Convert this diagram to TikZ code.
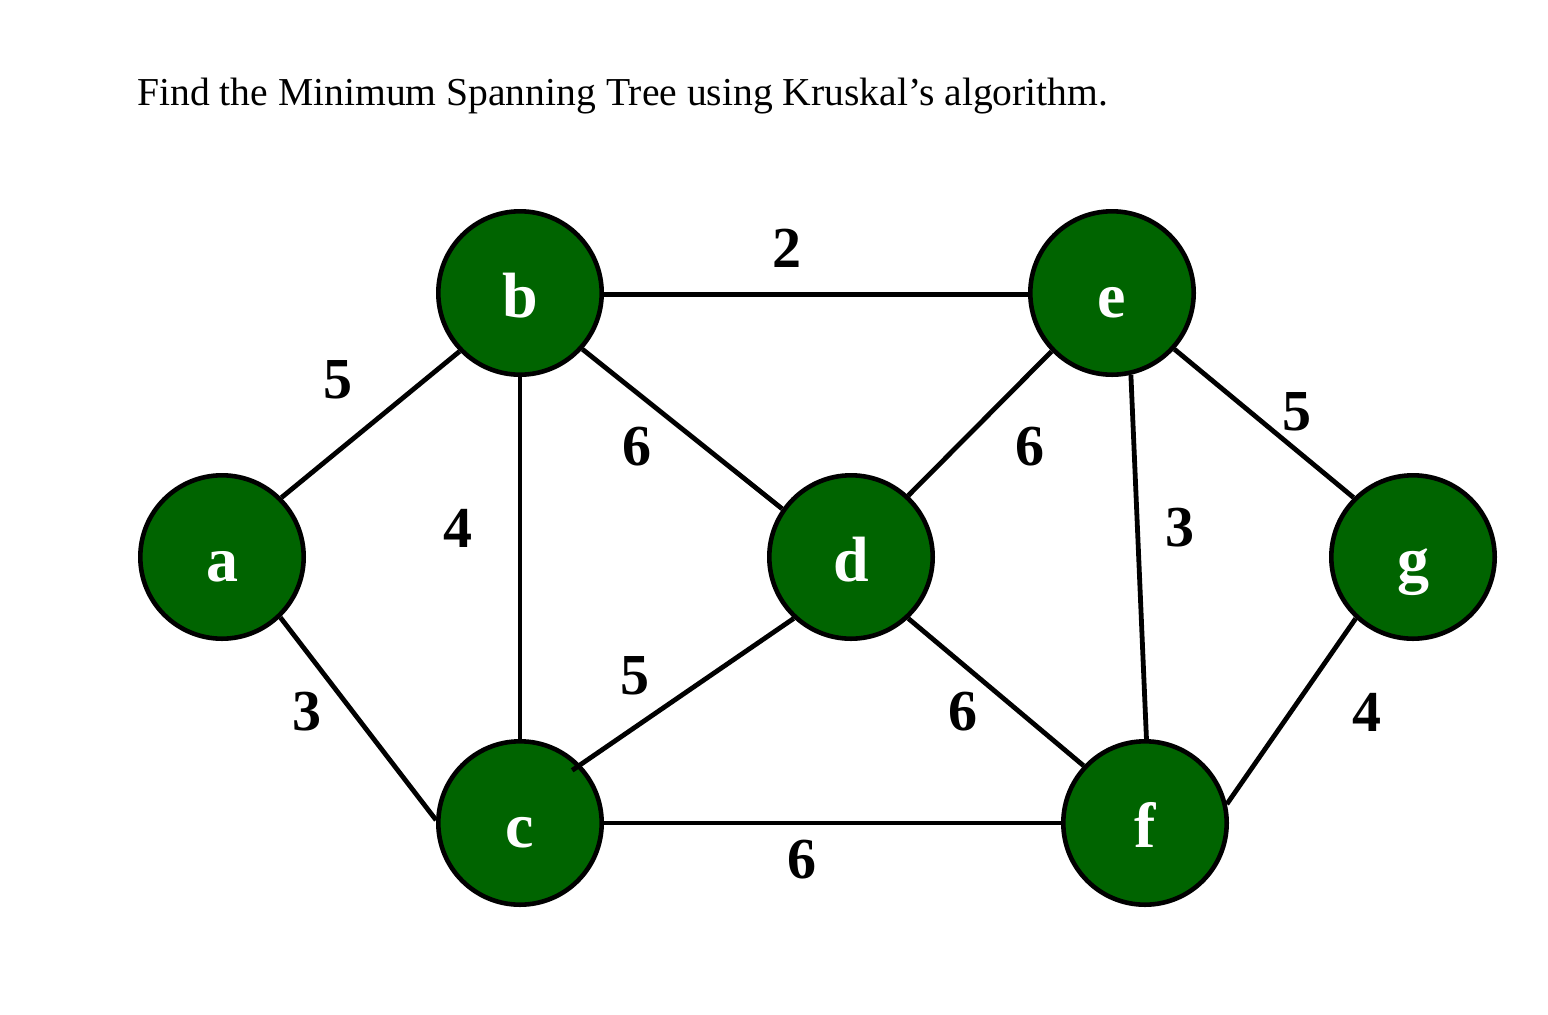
\documentclass[tikz,border=0pt]{standalone}
\usepackage{fontspec}
\setmainfont{Liberation Serif}
\definecolor{nodegreen}{RGB}{0,100,0}
\begin{document}
\begin{tikzpicture}[x=0.5pt,y=-0.5pt,
  vert/.style={circle,draw=black,line width=2.3pt,fill=nodegreen,minimum size=81.7pt,inner sep=0pt,
    text height=24pt,text depth=0pt,
    text=white,font=\bfseries\fontsize{32}{32}\selectfont},
  edge/.style={draw=black,line width=2.4pt},
  wlab/.style={font=\bfseries\fontsize{29}{29}\selectfont,inner sep=0pt}]
\useasboundingbox (0,0) rectangle (1548,1014);
\fill[white] (0,0) rectangle (1548,1014);
\node[anchor=base west,inner sep=0pt,font=\fontsize{19.8}{19.8}\selectfont] (title) at (137,105)
  {Find the Minimum Spanning Tree using Kruskal’s algorithm.};
\node[vert] (a) at (222,557) {a};
\node[vert] (b) at (520,293) {b};
\node[vert] (e) at (1112,293) {e};
\node[vert] (d) at (851,557) {d};
\node[vert] (g) at (1413,557) {g};
\node[vert] (c) at (520,823) {c};
\node[vert] (f) at (1145,823) {f};
\draw[edge] (a.45) -- (b.224);
\draw[edge] (a.-46) -- (c.178);
\draw[edge] (b.-1) -- (e.181);
\draw[edge] (b.-42) -- (d.145);
\draw[edge] (b.-90) -- (c.90);
\draw[edge] (e.224) -- (d.47);
\draw[edge] (e.-77) -- (f.89);
\draw[edge] (e.-42) -- (g.135);
\draw[edge,shorten >=-5pt] (d.227) -- (c.44);
\draw[edge] (d.-47) -- (f.137);
\draw[edge] (c.0) -- (f.180);
\draw[edge] (g.227) -- (f.13);
\node[wlab] (w1) at (338,380) {5};
\node[wlab] (w2) at (307,712) {3};
\node[wlab] (w3) at (787,248) {2};
\node[wlab] (w4) at (637,447) {6};
\node[wlab] (w5) at (458,528) {4};
\node[wlab] (w6) at (1030,447) {6};
\node[wlab] (w7) at (1297,412) {5};
\node[wlab] (w8) at (1180,528) {3};
\node[wlab] (w9) at (635,676) {5};
\node[wlab] (w10) at (963,712) {6};
\node[wlab] (w11) at (1367,712) {4};
\node[wlab] (w12) at (802,860) {6};
\end{tikzpicture}
\end{document}
